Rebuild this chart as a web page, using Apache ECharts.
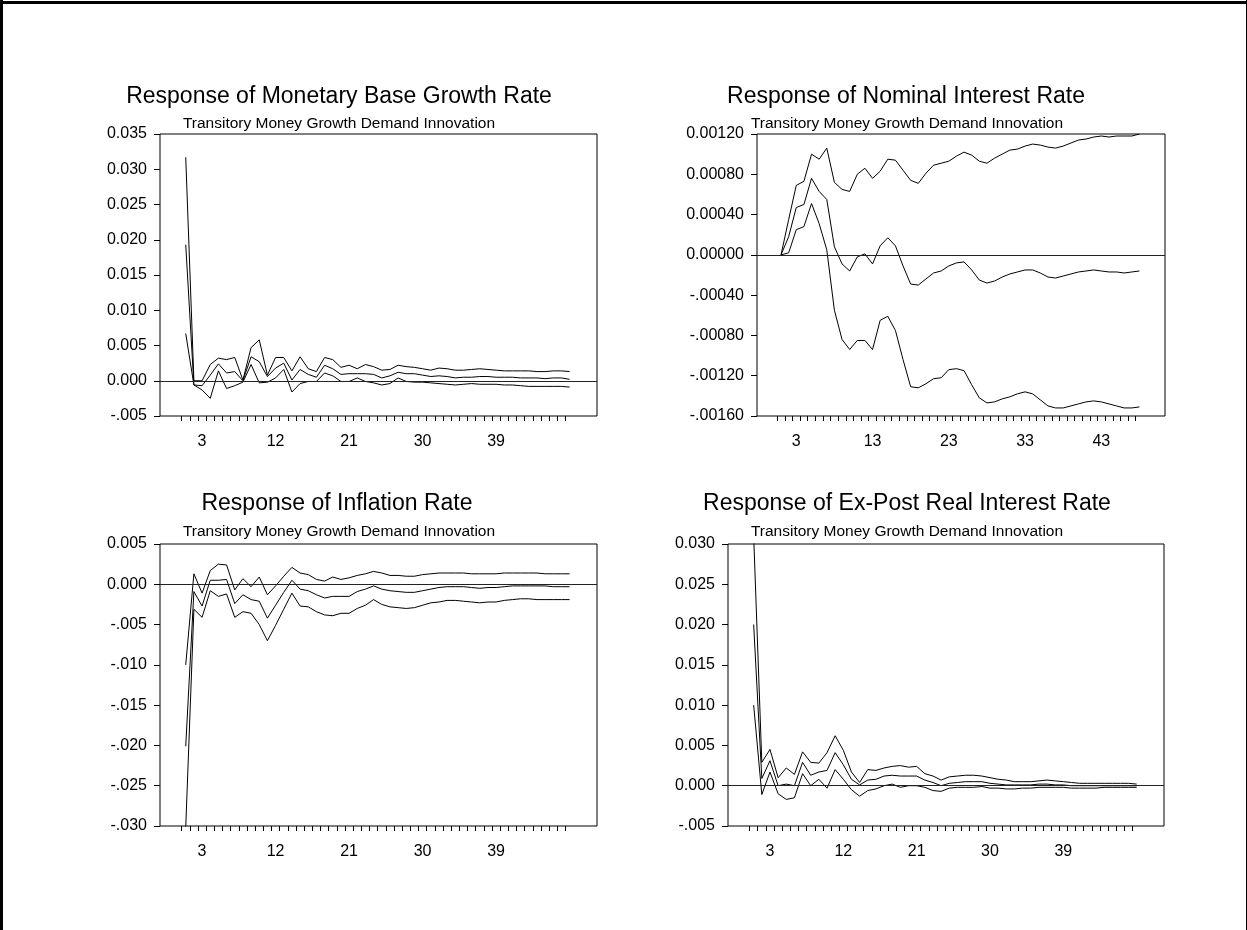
<!DOCTYPE html>
<html>
<head>
<meta charset="utf-8">
<script src="https://cdn.jsdelivr.net/npm/echarts@6/dist/echarts.min.js"></script>
<style>
  html, body { margin: 0; padding: 0; background: #fff; }
  #chart { width: 1247px; height: 930px; }
</style>
</head>
<body>
<div id="chart"></div>
<script>
// periods 1..48 of the impulse responses
const periods = Array.from({ length: 48 }, (_, i) => i + 1);
const tickPositions = periods.map((p) => p - 0.5);

// Response of Monetary Base Growth Rate
const baseHi = [0.0317, 0.0000, 0.0000, 0.0023, 0.0032, 0.0030, 0.0033, 0.0001, 0.0047, 0.0058,
  0.0008, 0.0033, 0.0033, 0.0014, 0.0034, 0.0017, 0.0013, 0.0033, 0.0030, 0.0019,
  0.0022, 0.0017, 0.0023, 0.0020, 0.0015, 0.0016, 0.0022, 0.0020, 0.0019, 0.0017,
  0.0015, 0.0018, 0.0017, 0.0015, 0.0015, 0.0016, 0.0017, 0.0016, 0.0015, 0.0014,
  0.0014, 0.0014, 0.0014, 0.0013, 0.0013, 0.0014, 0.0014, 0.0013];
const baseMid = [0.0193, -0.0006, -0.0007, 0.0008, 0.0024, 0.0011, 0.0013, 0.0000, 0.0034, 0.0027,
  0.0006, 0.0018, 0.0025, 0.0001, 0.0016, 0.0009, 0.0005, 0.0022, 0.0017, 0.0009,
  0.0010, 0.0010, 0.0010, 0.0009, 0.0004, 0.0007, 0.0012, 0.0010, 0.0010, 0.0008,
  0.0006, 0.0007, 0.0006, 0.0004, 0.0005, 0.0005, 0.0006, 0.0006, 0.0005, 0.0005,
  0.0005, 0.0004, 0.0004, 0.0004, 0.0003, 0.0004, 0.0004, 0.0002];
const baseLo = [0.0067, -0.0006, -0.0013, -0.0025, 0.0014, -0.0011, -0.0007, -0.0002, 0.0023, -0.0003,
  -0.0002, 0.0004, 0.0016, -0.0016, -0.0004, -0.0001, -0.0001, 0.0011, 0.0007, -0.0001,
  -0.0001, 0.0004, -0.0001, -0.0003, -0.0006, -0.0004, 0.0004, -0.0001, -0.0002, -0.0002,
  -0.0003, -0.0004, -0.0005, -0.0006, -0.0005, -0.0004, -0.0005, -0.0005, -0.0005, -0.0006,
  -0.0006, -0.0007, -0.0008, -0.0008, -0.0008, -0.0008, -0.0008, -0.0009];

// Response of Nominal Interest Rate
const rateHi = [0.00000, 0.00035, 0.00069, 0.00073, 0.00100, 0.00095, 0.00106, 0.00072, 0.00065, 0.00063,
  0.00080, 0.00086, 0.00076, 0.00083, 0.00095, 0.00094, 0.00084, 0.00074, 0.00071, 0.00081,
  0.00089, 0.00091, 0.00093, 0.00098, 0.00102, 0.00099, 0.00093, 0.00091, 0.00096, 0.00100,
  0.00104, 0.00105, 0.00108, 0.00110, 0.00109, 0.00107, 0.00106, 0.00108, 0.00111, 0.00114,
  0.00115, 0.00117, 0.00118, 0.00117, 0.00118, 0.00118, 0.00118, 0.00120];
const rateMid = [0.00000, 0.00018, 0.00047, 0.00050, 0.00076, 0.00063, 0.00055, 0.00008, -0.00009, -0.00016,
  -0.00002, 0.00001, -0.00009, 0.00009, 0.00017, 0.00009, -0.00011, -0.00029, -0.00030, -0.00024,
  -0.00018, -0.00016, -0.00011, -0.00008, -0.00007, -0.00015, -0.00025, -0.00028, -0.00026, -0.00022,
  -0.00019, -0.00017, -0.00015, -0.00015, -0.00018, -0.00022, -0.00023, -0.00021, -0.00019, -0.00017,
  -0.00016, -0.00015, -0.00016, -0.00017, -0.00017, -0.00018, -0.00017, -0.00016];
const rateLo = [0.00000, 0.00002, 0.00025, 0.00028, 0.00051, 0.00031, 0.00005, -0.00055, -0.00084, -0.00094,
  -0.00085, -0.00085, -0.00094, -0.00065, -0.00061, -0.00075, -0.00104, -0.00131, -0.00132, -0.00128,
  -0.00123, -0.00122, -0.00114, -0.00113, -0.00115, -0.00129, -0.00142, -0.00147, -0.00146, -0.00143,
  -0.00141, -0.00138, -0.00136, -0.00138, -0.00144, -0.00150, -0.00152, -0.00152, -0.00150, -0.00148,
  -0.00146, -0.00145, -0.00146, -0.00148, -0.00150, -0.00152, -0.00152, -0.00151];

// Response of Inflation Rate
const inflHi = [-0.0100, 0.0013, -0.0011, 0.0017, 0.0025, 0.0024, -0.0007, 0.0007, -0.0003, 0.0009,
  -0.0013, -0.0002, 0.0010, 0.0021, 0.0014, 0.0012, 0.0006, 0.0004, 0.0009, 0.0006,
  0.0008, 0.0011, 0.0013, 0.0016, 0.0014, 0.0011, 0.0011, 0.0010, 0.0010, 0.0012,
  0.0013, 0.0014, 0.0014, 0.0014, 0.0014, 0.0013, 0.0013, 0.0013, 0.0013, 0.0014,
  0.0014, 0.0014, 0.0014, 0.0014, 0.0013, 0.0013, 0.0013, 0.0013];
const inflMid = [-0.0201, -0.0009, -0.0027, 0.0005, 0.0005, 0.0006, -0.0024, -0.0013, -0.0019, -0.0021,
  -0.0042, -0.0026, -0.0010, 0.0005, -0.0006, -0.0008, -0.0013, -0.0017, -0.0015, -0.0015,
  -0.0015, -0.0009, -0.0006, -0.0002, -0.0006, -0.0008, -0.0009, -0.0010, -0.0010, -0.0008,
  -0.0006, -0.0004, -0.0003, -0.0003, -0.0003, -0.0004, -0.0005, -0.0004, -0.0004, -0.0003,
  -0.0002, -0.0002, -0.0002, -0.0002, -0.0002, -0.0003, -0.0003, -0.0003];
const inflLo = [-0.0302, -0.0031, -0.0041, -0.0008, -0.0015, -0.0012, -0.0041, -0.0034, -0.0036, -0.0050,
  -0.0070, -0.0051, -0.0031, -0.0011, -0.0027, -0.0028, -0.0034, -0.0038, -0.0039, -0.0036,
  -0.0036, -0.0030, -0.0026, -0.0019, -0.0025, -0.0028, -0.0029, -0.0030, -0.0029, -0.0026,
  -0.0023, -0.0022, -0.0020, -0.0020, -0.0021, -0.0022, -0.0023, -0.0022, -0.0022, -0.0020,
  -0.0019, -0.0018, -0.0018, -0.0019, -0.0019, -0.0019, -0.0019, -0.0019];

// Response of Ex-Post Real Interest Rate
const realHi = [0.0310, 0.0029, 0.0045, 0.0010, 0.0022, 0.0014, 0.0042, 0.0029, 0.0028, 0.0041,
  0.0062, 0.0044, 0.0017, 0.0004, 0.0020, 0.0019, 0.0022, 0.0024, 0.0025, 0.0023,
  0.0024, 0.0015, 0.0012, 0.0007, 0.0011, 0.0012, 0.0013, 0.0013, 0.0012, 0.0010,
  0.0008, 0.0007, 0.0005, 0.0005, 0.0005, 0.0006, 0.0007, 0.0006, 0.0005, 0.0004,
  0.0003, 0.0003, 0.0003, 0.0003, 0.0003, 0.0003, 0.0003, 0.0002];
const realMid = [0.0200, 0.0009, 0.0031, 0.0000, 0.0002, 0.0000, 0.0029, 0.0013, 0.0017, 0.0019,
  0.0041, 0.0026, 0.0008, 0.0001, 0.0007, 0.0008, 0.0012, 0.0013, 0.0012, 0.0012,
  0.0012, 0.0007, 0.0004, 0.0000, 0.0003, 0.0004, 0.0005, 0.0005, 0.0005, 0.0003,
  0.0002, 0.0001, 0.0001, 0.0001, 0.0001, 0.0002, 0.0002, 0.0001, 0.0001, 0.0000,
  0.0000, 0.0000, 0.0000, 0.0000, 0.0000, 0.0000, 0.0000, 0.0000];
const realLo = [0.0100, -0.0011, 0.0017, -0.0010, -0.0017, -0.0015, 0.0015, 0.0000, 0.0008, -0.0003,
  0.0020, 0.0008, -0.0005, -0.0013, -0.0006, -0.0004, 0.0000, 0.0002, -0.0002, 0.0000,
  0.0000, -0.0002, -0.0006, -0.0007, -0.0003, -0.0002, -0.0002, -0.0002, -0.0001, -0.0003,
  -0.0003, -0.0004, -0.0004, -0.0003, -0.0003, -0.0002, -0.0002, -0.0002, -0.0002, -0.0003,
  -0.0003, -0.0003, -0.0003, -0.0002, -0.0002, -0.0002, -0.0002, -0.0002];

const titles = [
  'Response of Monetary Base Growth Rate',
  'Response of Nominal Interest Rate',
  'Response of Inflation Rate',
  'Response of Ex-Post Real Interest Rate'
];
const subtitle = 'Transitory Money Growth Demand Innovation';
const xLabels = [
  [3, 12, 21, 30, 39],
  [3, 13, 23, 33, 43],
  [3, 12, 21, 30, 39],
  [3, 12, 21, 30, 39]
];

const FONT = '"Liberation Sans", Arial, sans-serif';

const panels = [
  { grid: { left: 160, top: 134, width: 437, height: 282 }, min: -0.005, max: 0.035, step: 0.005, digits: 3,
    lines: [baseHi, baseMid, baseLo], title: { x: 339, y: 97 }, sub: { x: 339, y: 124 } },
  { grid: { left: 757, top: 134, width: 408, height: 282 }, min: -0.0016, max: 0.0012, step: 0.0004, digits: 5,
    lines: [rateHi, rateMid, rateLo], title: { x: 906, y: 97 }, sub: { x: 907, y: 124 } },
  { grid: { left: 160, top: 544, width: 437, height: 282 }, min: -0.030, max: 0.005, step: 0.005, digits: 3,
    lines: [inflHi, inflMid, inflLo], title: { x: 337, y: 504 }, sub: { x: 339, y: 532 } },
  { grid: { left: 728, top: 544, width: 436, height: 282 }, min: -0.005, max: 0.030, step: 0.005, digits: 3,
    lines: [realHi, realMid, realLo], title: { x: 907, y: 504 }, sub: { x: 907, y: 532 } }
];

// 0.035 / -.005 style, as the original printout
const fmt = (digits) => (v) => {
  const s = Math.abs(v).toFixed(digits);
  return v < -1e-12 ? '-' + s.slice(1) : s;
};

const grid = [];
const xAxis = [];
const yAxis = [];
const series = [];
const graphic = [
  { type: 'line', shape: { x1: 1.5, y1: 0, x2: 1.5, y2: 930 }, style: { stroke: '#000', lineWidth: 3 } },
  { type: 'line', shape: { x1: 0, y1: 2.5, x2: 1247, y2: 2.5 }, style: { stroke: '#000', lineWidth: 3 } },
  { type: 'line', shape: { x1: 1246.5, y1: 0, x2: 1246.5, y2: 930 }, style: { stroke: '#000', lineWidth: 1 } }
];

panels.forEach((p, i) => {
  grid.push(Object.assign({ show: true, borderColor: '#000', borderWidth: 1, containLabel: false }, p.grid));
  xAxis.push({
    type: 'value', gridIndex: i, min: -2.15, max: 51.35,
    axisLine: { show: false, onZero: false },
    axisTick: { show: true, inside: false, length: 5, customValues: tickPositions, lineStyle: { color: '#000' } },
    axisLabel: { customValues: xLabels[i], margin: 18, color: '#000', fontFamily: FONT, fontSize: 16 },
    splitLine: { show: false }
  });
  yAxis.push({
    type: 'value', gridIndex: i, min: p.min, max: p.max, interval: p.step,
    axisLine: { show: false, onZero: false },
    axisTick: { show: true, inside: false, length: 6, lineStyle: { color: '#000' } },
    axisLabel: { formatter: fmt(p.digits), margin: 13, color: '#000', fontFamily: FONT, fontSize: 16,
      padding: [10, 0, 0, 0] },
    splitLine: { show: false }
  });
  p.lines.forEach((vals, k) => {
    const s = {
      type: 'line', xAxisIndex: i, yAxisIndex: i, clip: true,
      data: periods.map((t, j) => [t, vals[j]]),
      symbol: 'none', silent: true,
      lineStyle: { color: '#000', width: 1 }
    };
    if (k === 1) {
      s.markLine = {
        silent: true, symbol: ['none', 'none'], label: { show: false },
        lineStyle: { color: '#222', width: 1, type: 'solid' },
        data: [{ yAxis: 0 }]
      };
    }
    series.push(s);
  });
  graphic.push({
    type: 'text', x: p.title.x, y: p.title.y,
    style: { text: titles[i], fill: '#000', font: '23px ' + FONT, align: 'center', verticalAlign: 'middle' }
  });
  graphic.push({
    type: 'text', x: p.sub.x, y: p.sub.y,
    style: { text: subtitle, fill: '#000', font: '15.5px ' + FONT, align: 'center', verticalAlign: 'middle' }
  });
});

const chart = echarts.init(document.getElementById('chart'), null, { renderer: 'canvas' });
chart.setOption({
  animation: false,
  backgroundColor: '#fff',
  grid,
  xAxis,
  yAxis,
  series,
  graphic
});
</script>
</body>
</html>
